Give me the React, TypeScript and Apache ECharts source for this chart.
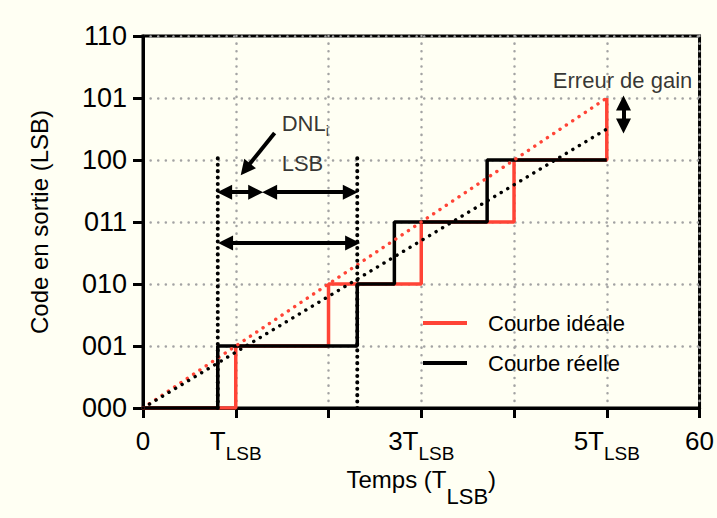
import React, { useEffect, useRef } from 'react';
import * as echarts from 'echarts';

const FONT = "'Liberation Sans', Arial, Helvetica, sans-serif";

// Axis tick labels
const yTickLabels = ['000', '001', '010', '011', '100', '101', '110'];
const xTickLabels: Record<number, string> = {
  0: '{a|0}',
  1: '{a|T}{s|LSB}',
  3: '{a|3T}{s|LSB}',
  5: '{a|5T}{s|LSB}',
  6: '{a|60}',
};

// Ideal staircase: transition times (T_LSB) and output codes
const idealTimes = [0, 1, 2, 3, 4, 5];
const idealCodes = [0, 1, 2, 3, 4, 5];
// Real staircase
const realTimes = [0, 0.806, 2.31, 2.71, 3.71, 5];
const realCodes = [0, 1, 2, 3, 4, 4];
// Trend (dotted) lines
const idealTrend = [[0, 0], [5, 5]];
const realTrend = [[0, 0], [5, 4.5]];
// DNL markers (vertical dotted lines)
const dnlMarkerTimes = [0.806, 2.31];
const dnlMarkerTop = 4.05;
// Double arrows [x1, y1, x2, y2] (arrow head centres)
const doubleArrows = [
  [0.88, 3.48, 1.215, 3.48],
  [1.365, 3.48, 2.235, 3.48],
  [0.89, 2.66, 2.26, 2.66],
  [5.18, 4.92, 5.18, 4.55],
];
// Pointer arrow for DNL label
const pointerArrow = [1.419, 4.435, 1.104, 3.85];
// Annotation anchors
const gainLabelPos = [5.17, 5.29];
const dnlLabelPos = [1.495, 4.58];
const lsbLabelPos = [1.495, 3.95];

const RED = '#ff4436';
const BG = '#fffff3';

export default function App() {
  const ref = useRef<HTMLDivElement>(null);

  useEffect(() => {
    document.body.style.margin = '0';
    document.body.style.background = BG;
    const chart = echarts.init(ref.current!, undefined, { renderer: 'svg' });

    const dotted = (color: string, width: number, gap: number) => ({
      color,
      width,
      type: [0.1, gap],
      cap: 'round',
    });

    const option: any = {
      animation: false,
      backgroundColor: BG,
      textStyle: { fontFamily: FONT },
      grid: {
        left: 143,
        right: 14,
        top: 36,
        bottom: 110,
        show: true,
        borderColor: '#000',
        borderWidth: 3,
        backgroundColor: 'transparent',
      },
      legend: {
        orient: 'vertical',
        left: 423,
        top: 312,
        padding: 0,
        itemWidth: 44,
        itemHeight: 4,
        itemGap: 18,
        icon: 'rect',
        selectedMode: false,
        textStyle: { fontSize: 22, color: '#000', fontFamily: FONT, padding: [0, 0, 0, 16] },
        data: ['Courbe idéale', 'Courbe réelle'],
      },
      xAxis: {
        type: 'value',
        min: 0,
        max: 6,
        interval: 1,
        name: '{a|Temps (T}{s|LSB}{a|)}',
        nameLocation: 'middle',
        nameGap: 52,
        nameTextStyle: {
          rich: {
            a: { fontSize: 24, lineHeight: 26, verticalAlign: 'top', color: '#000', fontFamily: FONT },
            s: { fontSize: 22, lineHeight: 22, padding: [18, 0, 0, 0], verticalAlign: 'top', color: '#000', fontFamily: FONT },
          },
        },
        axisLine: { lineStyle: { color: '#000', width: 3 } },
        axisTick: { length: 10, lineStyle: { color: '#000', width: 3 } },
        axisLabel: {
          margin: 20,
          formatter: (v: number) => xTickLabels[v] ?? '',
          rich: {
            a: { fontSize: 26, lineHeight: 28, verticalAlign: 'top', color: '#000', fontFamily: FONT },
            s: { fontSize: 19, lineHeight: 20, padding: [16, 0, 0, 0], verticalAlign: 'top', color: '#000', fontFamily: FONT },
          },
        },
        splitLine: { show: true, lineStyle: dotted('#a3a3a3', 2.5, 7.5) },
      },
      yAxis: {
        type: 'value',
        min: 0,
        max: 6,
        interval: 1,
        name: 'Code en sortie (LSB)',
        nameLocation: 'middle',
        nameGap: 92,
        nameTextStyle: { fontSize: 24, color: '#000', fontFamily: FONT },
        axisLine: { show: true, lineStyle: { color: '#000', width: 3 } },
        axisTick: { show: true, length: 10, lineStyle: { color: '#000', width: 3 } },
        axisLabel: {
          margin: 16,
          fontSize: 27,
          color: '#000',
          fontFamily: FONT,
          formatter: (v: number) => yTickLabels[v] ?? '',
        },
        splitLine: { show: true, lineStyle: dotted('#a3a3a3', 2.5, 7.5) },
      },
      series: [
        {
          name: 'Courbe idéale',
          type: 'line',
          step: 'end',
          symbol: 'none',
          color: RED,
          lineStyle: { color: RED, width: 3.5 },
          data: idealTimes.map((t, i) => [t, idealCodes[i]]),
          z: 3,
          silent: true,
        },
        {
          name: 'Courbe réelle',
          type: 'line',
          step: 'end',
          symbol: 'none',
          color: '#000',
          lineStyle: { color: '#000', width: 3.5 },
          data: realTimes.map((t, i) => [t, realCodes[i]]),
          z: 4,
          silent: true,
        },
        {
          name: 'idealTrend',
          type: 'line',
          symbol: 'none',
          lineStyle: dotted(RED, 3.4, 7.5),
          data: idealTrend,
          z: 5,
          silent: true,
        },
        {
          name: 'realTrend',
          type: 'line',
          symbol: 'none',
          lineStyle: dotted('#000', 3.4, 7.5),
          data: realTrend,
          z: 5,
          silent: true,
        },
        ...dnlMarkerTimes.map((t, i) => ({
          name: 'dnl' + i,
          type: 'line',
          symbol: 'none',
          lineStyle: dotted('#000', 4, 6.3),
          data: [[t, 0], [t, dnlMarkerTop]],
          z: 5,
          silent: true,
        })),
        {
          name: 'arrows',
          type: 'lines',
          coordinateSystem: 'cartesian2d',
          symbol: ['triangle', 'triangle'],
          symbolSize: [15, 15],
          lineStyle: { color: '#000', width: 4, opacity: 1 },
          itemStyle: { color: '#000' },
          data: doubleArrows.map((a) => ({ coords: [[a[0], a[1]], [a[2], a[3]]] })),
          z: 6,
          silent: true,
        },
        {
          name: 'pointer',
          type: 'lines',
          coordinateSystem: 'cartesian2d',
          symbol: ['none', 'triangle'],
          symbolSize: [15, 15],
          lineStyle: { color: '#000', width: 4, opacity: 1 },
          data: [{ coords: [[pointerArrow[0], pointerArrow[1]], [pointerArrow[2], pointerArrow[3]]] }],
          z: 6,
          silent: true,
        },
        {
          name: 'notes',
          type: 'scatter',
          symbolSize: 0,
          silent: true,
          z: 7,
          data: [
            {
              value: gainLabelPos,
              label: {
                show: true,
                position: 'inside',
                formatter: 'Erreur de gain',
                fontSize: 22,
                color: '#000',
                fontFamily: FONT,
              },
            },
            {
              value: dnlLabelPos,
              label: {
                show: true,
                position: 'right',
                distance: 0,
                formatter: '{a|DNL}{s|i}',
                rich: {
                  a: { fontSize: 22, lineHeight: 24, verticalAlign: 'top', color: '#000', fontFamily: FONT },
                  s: { fontSize: 14, lineHeight: 14, padding: [12, 0, 0, 0], verticalAlign: 'top', color: '#000', fontFamily: FONT },
                },
              },
            },
            {
              value: lsbLabelPos,
              label: {
                show: true,
                position: 'right',
                distance: 0,
                formatter: 'LSB',
                fontSize: 22,
                color: '#000',
                fontFamily: FONT,
              },
            },
          ],
        },
      ],
    };

    chart.setOption(option);
    return () => chart.dispose();
  }, []);

  return <div ref={ref} style={{ width: 717, height: 518, background: BG }} />;
}
